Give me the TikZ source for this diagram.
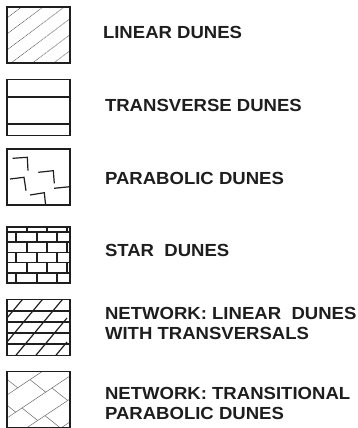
\documentclass[tikz,border=0pt]{standalone}
\usepackage{fontspec}
\newfontfamily\labelfont{Liberation Sans}[FakeStretch=1.06]
\definecolor{ink}{HTML}{1E1E1E}
\begin{document}
\begin{tikzpicture}[x=1pt,y=-1pt,
  swatch/.style={rectangle, minimum width=63pt, minimum height=56pt, inner sep=0pt, outer sep=0pt},
  frameline/.style={draw=ink, line width=1.8pt},
  hatch/.style={draw=black!55, line width=0.55pt},
  finehatch/.style={draw=black!60, line width=0.6pt, dash pattern=on 1.1pt off 0.6pt},
  rule/.style={draw=ink, line width=1.2pt},
  brick/.style={draw=ink, line width=1.6pt},
  legendtext/.style={anchor=west, inner sep=0pt, outer sep=0pt, text=ink, align=left,
    font=\labelfont\bfseries\fontsize{17.5}{20}\selectfont}]
\useasboundingbox (0,0) rectangle (357,428);

% swatch placeholders
\node[swatch] (lin)  at (38.5,35)   {};
\node[swatch] (tra)  at (38.5,107.5){};
\node[swatch] (par)  at (38.5,177)  {};
\node[swatch] (sta)  at (38.5,255)  {};
\node[swatch] (netl) at (38.5,327.5){};
\node[swatch] (nett) at (38.5,399.5){};

% linear dunes: fine oblique hatching
\begin{scope}
  \clip (lin.north west) rectangle (lin.south east);
  \foreach \c in {18,34,50,66,82,98}
    \draw[finehatch] (7,\c) -- ++(80,-60);
\end{scope}

% transverse dunes: two horizontal crests
\draw[rule] (tra.west |- 0,97) -- (tra.east |- 0,97);
\draw[rule] (tra.west |- 0,124) -- (tra.east |- 0,124);

% parabolic dunes: hooked crests
\begin{scope}
  \clip (par.north west) rectangle (par.south east);
  \draw[rule] (12.7,158.3) -- (27.3,157.3) -- (28,170.7);
  \draw[rule] (38.3,172.3) -- (53.3,170.7) -- (54.3,183.3);
  \draw[rule] (10,179) -- (24,177.3) -- (26,190.7);
  \draw[rule] (54,188.3) -- (72,186.5);
  \draw[rule] (30,195) -- (44.3,192.7) -- (45.7,206);
\end{scope}

% star dunes: brick bond
\foreach \y in {232,242.2,252.4,262.6,272.8}
  \draw[brick] (7,\y) -- (70,\y);
\foreach \ya/\yb in {227/232,242.2/252.4,262.6/272.8}
  \foreach \x in {27,47,67}
    \draw[brick] (\x,\ya) -- (\x,\yb);
\foreach \ya/\yb in {232/242.2,252.4/262.6,272.8/283}
  \foreach \x in {16,37,57}
    \draw[brick] (\x,\ya) -- (\x,\yb);

% network of linear dunes with transversals
\begin{scope}
  \clip (netl.north west) rectangle (netl.south east);
  \foreach \y in {311,322,333,344}
    \draw[rule] (7,\y) -- (70,\y);
  \foreach \c in {318,342,366,390,414}
    \draw[rule] (7,\c) -- ++(60,-72);
\end{scope}

% network of transitional parabolic dunes: herringbone
\begin{scope}
  \clip (nett.north west) rectangle (nett.south east);
  \foreach \c in {372,395,418,441,464}
    \draw[hatch] (0,\c+4.67) -- ++(80,-53.4);
  \foreach \c/\list in {372/{2,32},395/{0,30,60},418/{-8,22,52},441/{-15,15,45}}
    \foreach \x in \list
      \draw[hatch] (\x,{\c-0.667*(\x-7)}) -- ++(15.7,12.5);
\end{scope}

% swatch frames
\foreach \n in {lin,tra,par,sta,netl,nett}
  \draw[frameline] (\n.north west) rectangle (\n.south east);

% legend texts
\node[legendtext] (tlin)  at (103,32.5)  {LINEAR DUNES};
\node[legendtext] (ttra)  at (105,105)   {TRANSVERSE DUNES};
\node[legendtext] (tpar)  at (105,178)   {PARABOLIC DUNES};
\node[legendtext] (tsta)  at (105,250)   {STAR\ \ DUNES};
\node[legendtext] (tnetl) at (105,323)   {NETWORK: LINEAR\ \ DUNES\\WITH TRANSVERSALS};
\node[legendtext] (tnett) at (105,403)   {NETWORK: TRANSITIONAL\\PARABOLIC DUNES};
\end{tikzpicture}
\end{document}
